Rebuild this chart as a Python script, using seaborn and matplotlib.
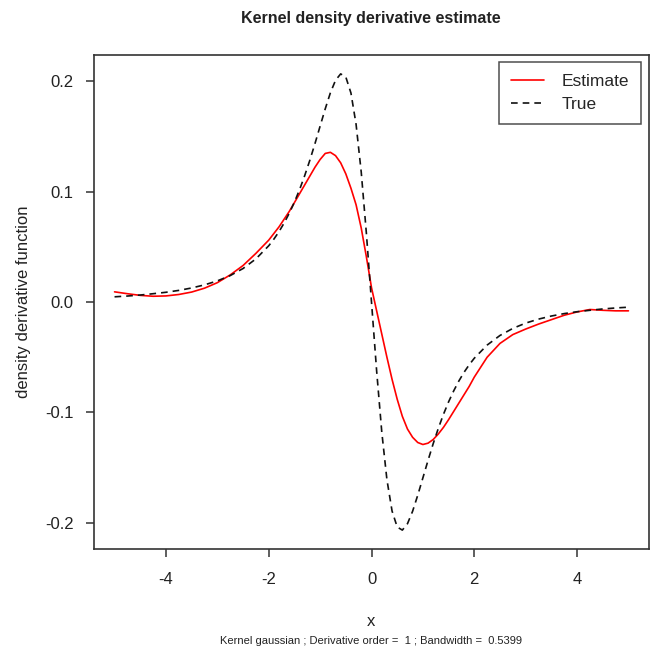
import matplotlib
matplotlib.use("Agg")
import matplotlib.pyplot as plt
import seaborn as sns
import pandas as pd

# ---- data ----
x_grid = [-5.0, -4.75, -4.5, -4.25, -4.0, -3.75, -3.5, -3.25, -3.0, -2.75, -2.5, -2.25,
          -2.0, -1.9, -1.8, -1.7, -1.6, -1.5, -1.4, -1.3, -1.2, -1.1, -1.0, -0.9, -0.8,
          -0.7, -0.6, -0.5, -0.4, -0.3, -0.2, -0.1, 0.0, 0.1, 0.2, 0.3, 0.4, 0.5, 0.6,
          0.7, 0.8, 0.9, 1.0, 1.1, 1.2, 1.3, 1.4, 1.5, 1.6, 1.7, 1.8, 1.9, 2.0,
          2.25, 2.5, 2.75, 3.0, 3.25, 3.5, 3.75, 4.0, 4.25, 4.5, 4.75, 5.0]

estimate = [0.0092, 0.0075, 0.0060, 0.0052, 0.0055, 0.0068, 0.0090, 0.0125, 0.0175, 0.0245,
            0.0330, 0.0440, 0.0560, 0.0620, 0.0680, 0.0750, 0.0820, 0.0900, 0.0980, 0.1060,
            0.1140, 0.1220, 0.1290, 0.1345, 0.1355, 0.1325, 0.1260, 0.1160, 0.1030, 0.0880,
            0.0670, 0.0410, 0.0130, -0.0080, -0.0290, -0.0500, -0.0700, -0.0880, -0.1035,
            -0.1150, -0.1225, -0.1272, -0.1290, -0.1278, -0.1245, -0.1195, -0.1135, -0.1065,
            -0.0990, -0.0915, -0.0840, -0.0765, -0.0680, -0.0500, -0.0375, -0.0295, -0.0245,
            -0.0200, -0.0160, -0.0120, -0.0090, -0.0068, -0.0075, -0.0080, -0.0080]

true_vals = [0.0047, 0.0054, 0.0063, 0.0075, 0.0088, 0.0105, 0.0127, 0.0155, 0.0191, 0.0239,
             0.0303, 0.0390, 0.0509, 0.0569, 0.0637, 0.0715, 0.0804, 0.0904, 0.1017, 0.1144,
             0.1283, 0.1434, 0.1592, 0.1749, 0.1894, 0.2007, 0.2065, 0.2037, 0.1892, 0.1608,
             0.1177, 0.0624, 0.0, -0.0624, -0.1177, -0.1608, -0.1892, -0.2037, -0.2065,
             -0.2007, -0.1894, -0.1749, -0.1592, -0.1434, -0.1283, -0.1144, -0.1017, -0.0904,
             -0.0804, -0.0715, -0.0637, -0.0569, -0.0509, -0.0390, -0.0303, -0.0239, -0.0191,
             -0.0155, -0.0127, -0.0105, -0.0088, -0.0075, -0.0063, -0.0054, -0.0047]

x_ticks = [-4, -2, 0, 2, 4]
y_ticks = [-0.2, -0.1, 0.0, 0.1, 0.2]
y_tick_labels = ["-0.2", "-0.1", "0.0", "0.1", "0.2"]
series_names = ["Estimate", "True"]

title = "Kernel density derivative estimate"
x_label = "x"
y_label = "density derivative function"
subtitle = "Kernel gaussian ; Derivative order =  1 ; Bandwidth =  0.5399"

# ---- plotting ----
sns.set_theme(style="white")
plt.rcParams["font.family"] = ["Liberation Sans", "DejaVu Sans"]

W, H = 652, 653
fig = plt.figure(figsize=(W / 100, H / 100), dpi=100)
ax = fig.add_axes([94 / W, 1 - 549 / H, (649 - 94) / W, (549 - 55) / H])

df_est = pd.DataFrame({"x": x_grid, "y": estimate})
df_true = pd.DataFrame({"x": x_grid, "y": true_vals})

sns.lineplot(data=df_est, x="x", y="y", ax=ax, color="#ff0000", linewidth=1.2,
             label=series_names[0], sort=False, estimator=None)
sns.lineplot(data=df_true, x="x", y="y", ax=ax, color="#111111", linewidth=1.2,
             linestyle=(0, (4, 3)), label=series_names[1], sort=False, estimator=None)

ax.set_xlim(-5.4, 5.4)
ax.set_ylim(-0.2236, 0.2236)
ax.set_xticks(x_ticks)
ax.set_xticklabels([str(t) for t in x_ticks])
ax.set_yticks(y_ticks)
ax.set_yticklabels(y_tick_labels)
ax.set_xlabel("")
ax.set_ylabel("")

for s in ax.spines.values():
    s.set_visible(True)
    s.set_color("#333333")
    s.set_linewidth(1.2)

ax.tick_params(axis="both", which="both", direction="out", length=5.5, width=1.1,
               color="#333333", labelsize=12, labelcolor="#222222",
               left=True, bottom=True, top=False, right=False)
ax.tick_params(axis="x", pad=11)
ax.tick_params(axis="y", pad=9)
ax.grid(False)

leg = ax.legend(loc="upper right", bbox_to_anchor=(641 / W, 1 - 62 / H),
                bbox_transform=fig.transFigure, frameon=True, fancybox=False,
                fontsize=12.5, handlelength=1.9, handletextpad=1.0,
                borderpad=0.7, labelspacing=0.45, borderaxespad=0)
leg.get_frame().set_edgecolor("#222222")
leg.get_frame().set_linewidth(1.1)

fig.text(371 / W, 1 - 18 / H, title, ha="center", va="center",
         fontsize=11.5, fontweight="bold", color="#222222")
fig.text(371 / W, 1 - 622 / H, x_label, ha="center", va="center",
         fontsize=12, color="#222222")
fig.text(371 / W, 1 - 641 / H, subtitle, ha="center", va="center",
         fontsize=8, color="#222222")
fig.text(24 / W, 1 - 302 / H, y_label, ha="center", va="center", rotation=90,
         fontsize=12, color="#222222")

fig.savefig("out.png", dpi=100, facecolor="white")
